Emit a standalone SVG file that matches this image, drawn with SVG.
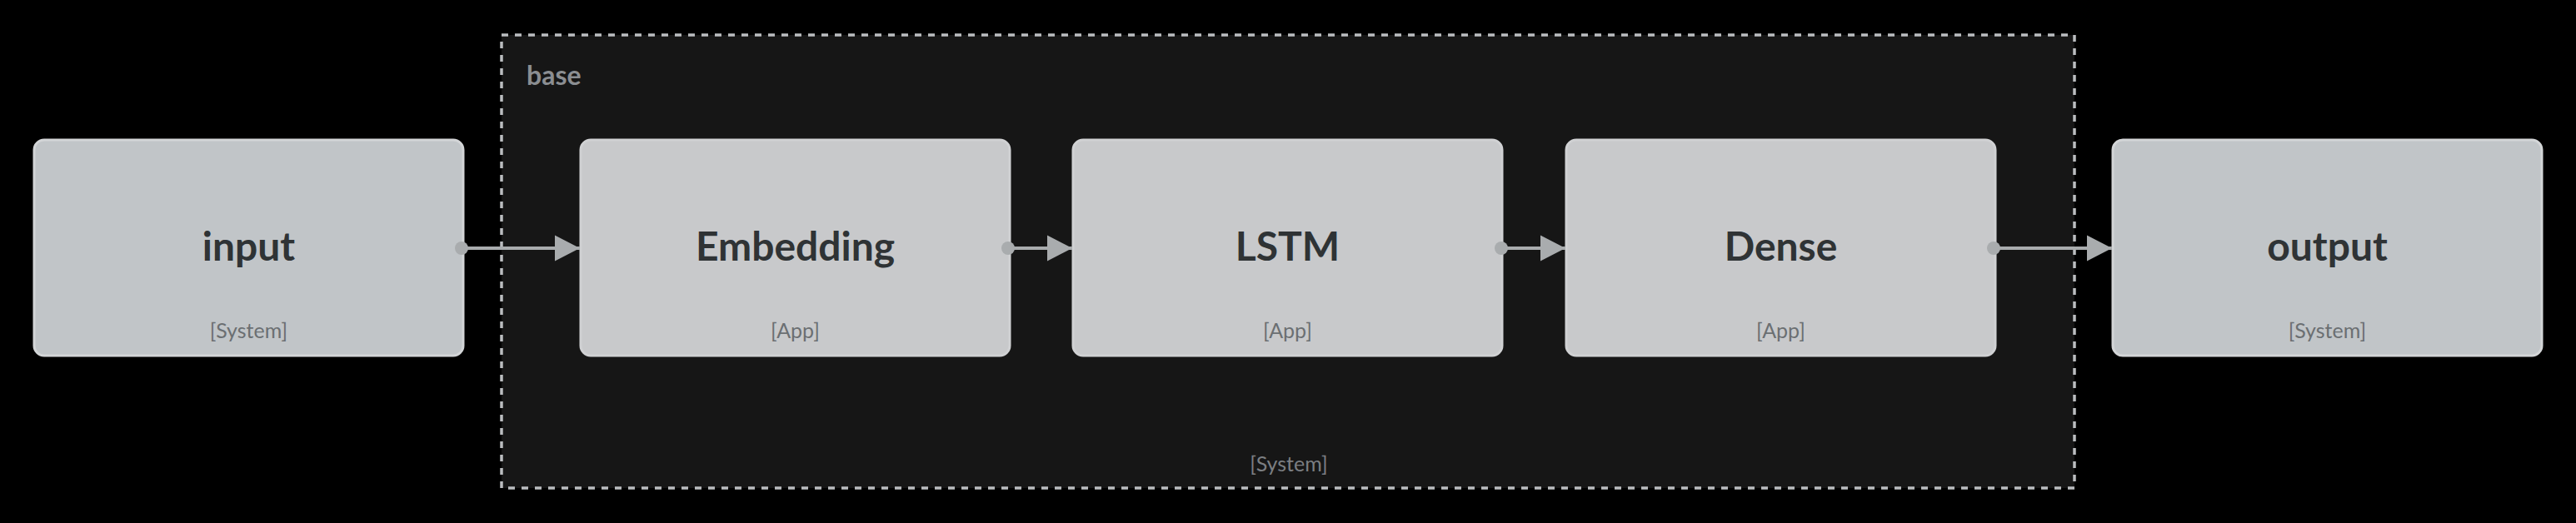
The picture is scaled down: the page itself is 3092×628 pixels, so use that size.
<svg xmlns="http://www.w3.org/2000/svg" width="3092" height="628" viewBox="0 0 3092 628">
<style>
.sys{fill:#c1c5c8;stroke:#d3d5d7;stroke-width:3}
.app{fill:#c8c9cb;stroke:#d0d1d3;stroke-width:3}
.title{font-family:Lato,"Liberation Sans",sans-serif;font-weight:bold;font-size:48px;fill:#2f3335;text-anchor:middle}
.tag{font-family:Lato,"Liberation Sans",sans-serif;font-size:25px;fill:#6b6f72;text-anchor:middle}
.edge{stroke:#a9acae;stroke-width:4;fill:none}
.dot{fill:#a9acae}
</style>
<defs>
<marker id="arr" markerUnits="userSpaceOnUse" markerWidth="32" markerHeight="32" refX="30" refY="16" orient="auto">
<path d="M0,0.5 L30,16 L0,31.5 Z" fill="#a9acae"/>
</marker>
</defs>
<rect width="3092" height="628" fill="#000"/>
<g id="base">
<rect x="602" y="42" width="1888" height="544" fill="#161616" stroke="#bbbdc0" stroke-width="3.5" stroke-dasharray="8 8"/>
<text x="632" y="102" font-family="Lato,'Liberation Sans',sans-serif" font-weight="bold" font-size="32" fill="#8b8e92">base</text>
<text x="1547" y="566" class="tag" style="fill:#7b7e82">[System]</text>
</g>
<g id="input">
<rect class="sys" x="41" y="168" width="515" height="259" rx="12"/>
<text class="title" x="298.5" y="313">input</text>
<text class="tag" x="298.5" y="406">[System]</text>
</g>
<g id="embedding">
<rect class="app" x="697" y="168" width="515" height="259" rx="12"/>
<text class="title" x="954.5" y="313">Embedding</text>
<text class="tag" x="954.5" y="406">[App]</text>
</g>
<g id="lstm">
<rect class="app" x="1288" y="168" width="515" height="259" rx="12"/>
<text class="title" x="1545.5" y="313">LSTM</text>
<text class="tag" x="1545.5" y="406">[App]</text>
</g>
<g id="dense">
<rect class="app" x="1880" y="168" width="515" height="259" rx="12"/>
<text class="title" x="2137.5" y="313">Dense</text>
<text class="tag" x="2137.5" y="406">[App]</text>
</g>
<g id="output">
<rect class="sys" x="2536" y="168" width="515" height="259" rx="12"/>
<text class="title" x="2793.5" y="313">output</text>
<text class="tag" x="2793.5" y="406">[System]</text>
</g>
<g id="connectors">
<circle class="dot" cx="554" cy="298" r="8"/>
<path class="edge" d="M554,298 H696" marker-end="url(#arr)"/>
<circle class="dot" cx="1210" cy="298" r="8"/>
<path class="edge" d="M1210,298 H1287" marker-end="url(#arr)"/>
<circle class="dot" cx="1802" cy="298" r="8"/>
<path class="edge" d="M1802,298 H1879" marker-end="url(#arr)"/>
<circle class="dot" cx="2393" cy="298" r="8"/>
<path class="edge" d="M2393,298 H2535" marker-end="url(#arr)"/>
</g>
</svg>
